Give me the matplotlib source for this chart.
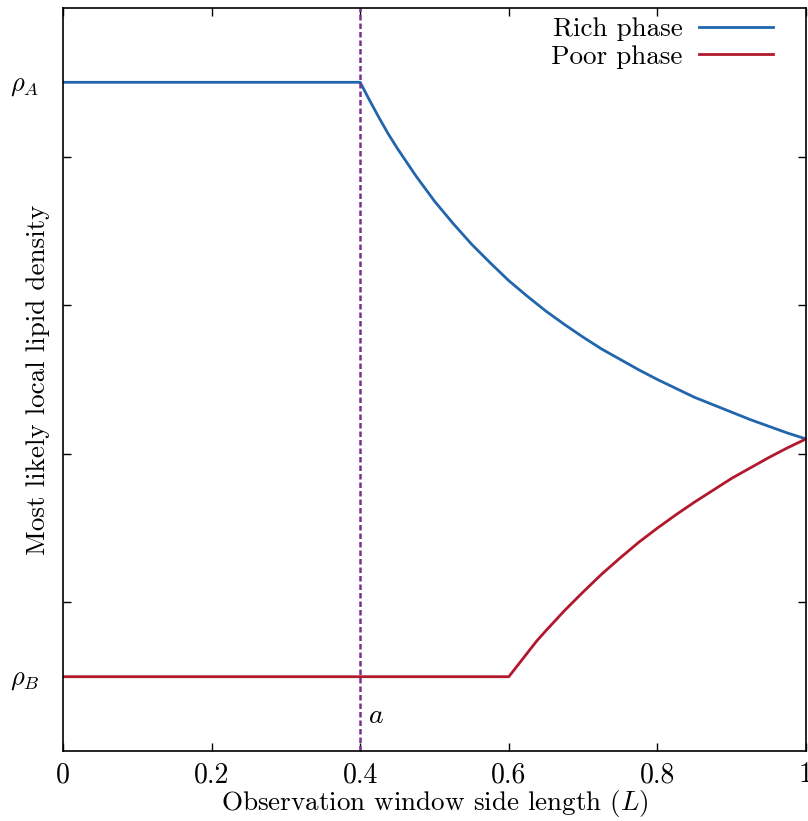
import matplotlib
matplotlib.use("Agg")
import matplotlib.pyplot as plt

plt.rcParams['font.family'] = 'serif'
plt.rcParams['font.serif'] = ['cmr10']
plt.rcParams['mathtext.fontset'] = 'cm'
plt.rcParams['axes.unicode_minus'] = False

# values
L_rich = [0.0, 0.4, 0.4125, 0.425, 0.4375, 0.45, 0.475, 0.5, 0.525, 0.55, 0.575, 0.6,
          0.625, 0.65, 0.675, 0.7, 0.725, 0.75, 0.775, 0.8, 0.825, 0.85, 0.875, 0.9,
          0.925, 0.95, 0.975, 1.0]
rho_rich = [0.9, 0.9, 0.876, 0.853, 0.831, 0.811, 0.774, 0.74, 0.71, 0.682, 0.657, 0.633,
            0.612, 0.592, 0.574, 0.557, 0.541, 0.527, 0.513, 0.5, 0.488, 0.476, 0.466, 0.456,
            0.446, 0.437, 0.428, 0.42]
L_poor = [0.0, 0.6, 0.6125, 0.625, 0.6375, 0.65, 0.675, 0.7, 0.725, 0.75, 0.775, 0.8, 0.825,
          0.85, 0.875, 0.9, 0.925, 0.95, 0.975, 1.0]
rho_poor = [0.1, 0.1, 0.116, 0.132, 0.148, 0.162, 0.189, 0.214, 0.238, 0.26, 0.281, 0.3,
            0.318, 0.335, 0.351, 0.367, 0.381, 0.395, 0.408, 0.42]
a_pos = 0.4
rho_A, rho_B = 0.9, 0.1

xticks = [0, 0.2, 0.4, 0.6, 0.8, 1]
xticklabels = ["0", "0.2", "0.4", "0.6", "0.8", "1"]

fig = plt.figure(figsize=(8.08, 8.21), dpi=100)
ax = fig.add_axes([63/808, 70/821, 743/808, 743/821])

ax.plot(L_rich, rho_rich, color="#2166ac", lw=2, label="Rich phase")
ax.plot(L_poor, rho_poor, color="#b2182b", lw=2, label="Poor phase")
ax.axvline(a_pos, color="#7b3294", lw=1.8, ls=(0, (2.2, 1.2)))
ax.text(a_pos + 0.01, 0.047, "$a$", fontsize=20, va="center", ha="left")

ax.set_xlim(0, 1)
ax.set_ylim(0, 1)
ax.set_xticks(xticks)
ax.set_xticklabels(xticklabels)
ax.set_yticks([rho_B, rho_A])
ax.set_yticklabels([r"$\rho_B$", r"$\rho_A$"])
ax.set_yticks([0.2, 0.4, 0.6, 0.8], minor=True)
ax.tick_params(which="both", direction="in", top=True, right=True,
               length=6, width=1, labelsize=20, pad=8)
ax.tick_params(axis="y", which="major", length=0, pad=17, labelsize=19)
for s in ax.spines.values():
    s.set_linewidth(1.2)

ax.set_xlabel("Observation window side length ($L$)", fontsize=19.5, labelpad=0)
ax.set_ylabel("Most likely local lipid density", fontsize=19.5)
ax.yaxis.set_label_coords(-0.018, 0.5)

ax.legend(loc="upper right", bbox_to_anchor=(1 - 28/743, 1 - 4/743),
          frameon=False, markerfirst=False, fontsize=19.5,
          handlelength=2.7, handletextpad=0.63, labelspacing=0.13,
          borderpad=0.2, borderaxespad=0)

fig.savefig("out.png", dpi=100)
